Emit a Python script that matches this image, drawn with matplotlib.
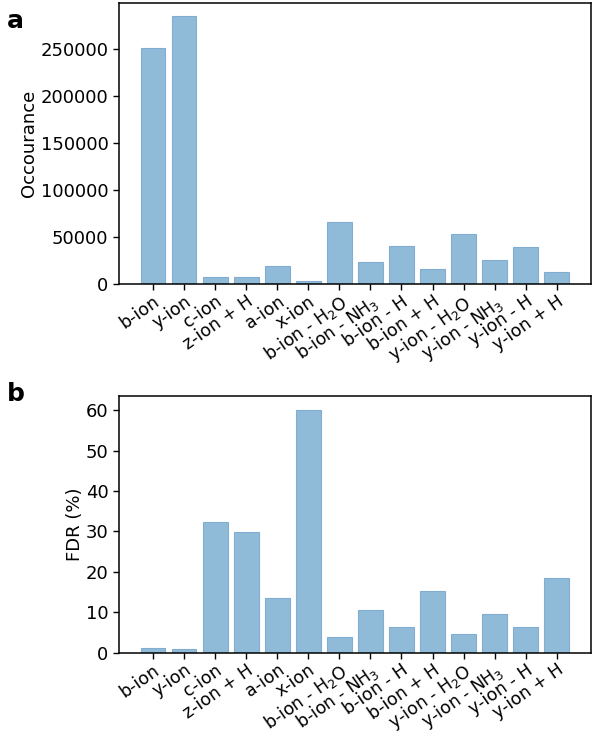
import matplotlib
matplotlib.use("Agg")
import matplotlib.pyplot as plt

categories = ["b-ion", "y-ion", "c-ion", "z-ion + H", "a-ion", "x-ion",
              "b-ion - H$_2$O", "b-ion - NH$_3$", "b-ion - H", "b-ion + H",
              "y-ion - H$_2$O", "y-ion - NH$_3$", "y-ion - H", "y-ion + H"]
occurrence = [251000, 285500, 7500, 7500, 18800, 3600, 66000, 23900, 40900,
              16000, 53300, 25600, 39800, 12800]
fdr = [1.0, 0.75, 32.4, 29.8, 13.4, 60.1, 3.9, 10.5, 6.3, 15.2, 4.6, 9.6, 6.3, 18.5]
occ_ticks = [0, 50000, 100000, 150000, 200000, 250000]
fdr_ticks = [0, 10, 20, 30, 40, 50, 60]

plt.rcParams['font.family'] = ['DejaVu Sans']
plt.rcParams['mathtext.fontset'] = 'dejavusans'

fig = plt.figure(figsize=(6.0, 7.34), dpi=100)
bar_color = (0.561, 0.733, 0.851)
edge_color = (0.50, 0.68, 0.82)

ax1 = fig.add_axes([0.198, 0.613, 0.787, 0.383])
ax2 = fig.add_axes([0.198, 0.111, 0.787, 0.349])

x = list(range(len(categories)))
for ax, vals, ticks, ylim, ylabel in [
        (ax1, occurrence, occ_ticks, (0, 299000), "Occourance"),
        (ax2, fdr, fdr_ticks, (0, 63.4), "FDR (%)")]:
    ax.bar(x, vals, width=0.8, color=bar_color, edgecolor=edge_color, linewidth=0.8)
    ax.set_xlim(-1.1, 14.1)
    ax.set_ylim(*ylim)
    ax.set_yticks(ticks)
    ax.set_xticks(x)
    ax.set_xticklabels(categories, rotation=35, ha='right', rotation_mode='anchor')
    ax.tick_params(axis='both', labelsize=13, length=4, width=1, direction='out')
    ax.tick_params(axis='x', labelsize=12.5, pad=2)
    for s in ax.spines.values():
        s.set_linewidth(1.1)
    ax.set_ylabel(ylabel, fontsize=13)

ax1.yaxis.set_label_coords(-0.172, 0.5)
ax2.yaxis.set_label_coords(-0.074, 0.5)

fig.text(0.012, 0.988, "a", fontsize=18, fontweight='bold', va='top', ha='left')
fig.text(0.012, 0.480, "b", fontsize=18, fontweight='bold', va='top', ha='left')

fig.savefig("out.png", dpi=100)
